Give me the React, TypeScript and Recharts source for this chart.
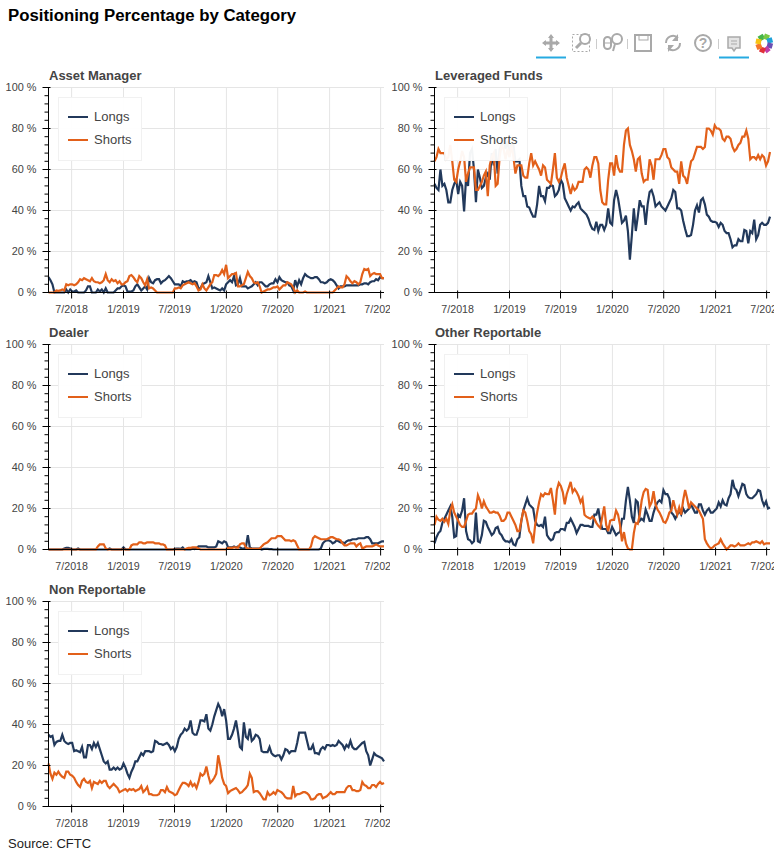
import React from "react";
import { LineChart, Line, XAxis, YAxis, CartesianGrid, Legend } from "recharts";

const FONT = '"Liberation Sans", Arial, sans-serif';
const NAVY = "#22395b";
const ORANGE = "#e2601a";
const GREY = "#444444";
const ICON = "#a9a9a9";

const assetLongs = [
  7.5,6,4,0,0,0,0,0,0,1.5,
  0,1.5,0.5,0.5,1,0,0,0,0,1,
  3,3,0,0,0,1.5,0.5,1.5,0,2,
  0,0,0,0,1,2,2,3,3.5,3,
  0.5,0.5,0.5,1,3,4,2.5,1,2,3,
  1.5,7,5,4.5,6,6.5,6.5,4.5,5.5,6,
  7,8,7,5.5,4,4,4,3,5.5,5,
  5.5,5.5,6,5,5.5,5,2,2,4,4.5,
  5,8,5,2,2.5,2,1.5,1,2,1,
  4,5,6,5,8,3.5,4,7,3,3,
  3,2,2.5,3,4,5,3.5,5,5,4,
  3,3,4,4.5,4.5,6.5,5,7.5,6,5.5,
  5,5,3.5,3,1,6,3,6,4,7,
  9,8,7.5,7,7,7.5,7.5,6.5,5,5,
  4.5,5,6,6.5,6,5,3.5,2,3,3,
  3,3.5,3.5,3.5,3.5,3.5,3.5,3.5,4,4,
  4.5,4.5,4,5,5.5,5.5,6.5,6,7.5,7,7,
];
const assetShorts = [
  0,0,0,0,1,0.8,1,1.5,1,4,
  3.5,4,4,3.5,4,5,6.5,6,7,6.5,
  6,5.5,7,5.5,5,5,4.5,5,6,9,
  6,5,6.5,5.5,6,4.5,5.5,4,4,5,
  5.5,8,8.5,7.5,6,5,8,7,5,3.5,
  6.5,2,2.5,2,1,0,0,0,0,0,
  0,0,0,0,2,2,2.5,2,3.5,4,
  4.5,5,4.5,4,4.5,3,1,1.5,4,2,
  1,2.5,4,5,8.5,8.5,8,9,11,9,
  13.5,7,8,9,9,9.5,3,3,3.5,4,
  7,10,8,7,5,4.5,5,3,0,0.5,
  1,1.5,1.5,2,2.5,2.5,3,1.5,2.5,3.5,
  3.5,5,4.5,4,2.5,0,1,0,0,0,
  0.5,0,0,0,0,0,0,0,0,0,
  0,0,0,0,0,1,2,3,2.5,2.5,
  4,8,7,5.5,4.5,5.5,5,4,5,9,
  11.5,11,11.5,8,9,9.5,9,9,9,7,7,
];
const leveragedLongs = [
  53,51,50,60,52,53,50,44,44,50,
  53,55,48,54,52,39.5,56,52,68,70,
  60,44,60,56,51,52,56,58,55,68,
  62,70,58,70,72,74,70,74,68,72,
  72,64,64,65,52,47,47,42,41.5,39,
  37,37,43,52,47,47,44.5,51,51,52.5,
  52,47,48,50,55,53,46,44,42,40,
  42,41.5,43,44,41,40,39,38,36,33,
  31,30.5,34.5,30,33,33,30.5,33,41,34,
  33,45,50,46,40,34,35,37.5,30,16,
  28,41,30,37,45,42,42,33,43,49,
  50,47,42,43,44,42,41,40,42,44,
  46,50,49,41,41,40,35,31,27.5,27.5,
  28,33,40,42.5,39,45,46,43,38,37,
  35,34.5,34.5,34,32,34,33,30,29,29,
  26,22,23,23,26,25,25,30.5,30,24,
  30,29,35.5,26,28,33,34,33,33,34,37,
];
const leveragedShorts = [
  64,66,70,68,68,68,65,66,72,64,
  55,54,60,64,69,66,54,58,61,61,
  61,50,50,52,54,57,59,47,62,66,
  68,52,53,66,72,70,65,70,66,72,
  66,58,62,62,62,57,56,56,63,68,
  62,64,62,60,57,62,61,55,54,53,
  60,68,56,54,56,60,63,56,52,48,
  52,50,51,54,54,54,60,61,60,56,
  62,66,66,63,50,44,43,43,55,63,
  63,57,67,61,59,59,72,79,80,72,
  69,65,59,65,66,58,54,55,55,65,
  62,55,65,65,65,67,70,70,66,65,
  61,60,59,59,53,64,57,56,53,59,
  64,65,68,71,71,71,70,71,80,80,
  79,77,81.5,80,80,79,75,74,76,76,
  75,71,69,70,72,73,76,76,79,75,
  65,66,66,65,67,65,67,66,62,64,68.5,
];
const dealerLongs = [
  0,0,0,0,0,0,0,0,0.5,0.8,
  0.8,0.5,0,0,0,0.5,0,0,0,0,
  0,0,0,0,0,0,0,0,0,0,
  0,0.5,0,0,0,0,0,0,1,0,
  0,0,0,0,0,0,0,0,0,0,
  0,0,0,0,0,0,0,0,0,0,
  0,0,0,0,0.3,0.5,0.5,0.3,1,0,
  0,0,0,0.5,0.2,0.5,1.5,1.5,1.5,1.5,
  1.5,1,1,1,1,1.5,4,3.5,3,4,
  3.5,1,1,1,1.5,1,1.5,1,0.5,0.5,
  1,7,1,0.5,0.5,0.5,0.5,0.5,0,0.3,
  0.3,0.3,0.2,0.2,0,0,0,0,0,0,
  0,0,0,0,0,0,0,0,0,0,
  0,0,0,0,0,0,0,0,0.5,3,
  4,4.5,4.5,4,3,3.5,4.5,4,3.5,3.5,
  3,4,4.5,4.5,5,5,5,5.5,5.5,5.5,
  5.5,6,6,5,3,3,3,3,3.5,4,4,
];
const dealerShorts = [
  0,0,0,0,0,0,0,0,0,0,
  0,0,0,0,0,0,0,0,0,0,
  0,0,0,0,0,1.5,2.5,2.5,2.5,0.5,
  0,0,0,0,0,0,0,0,0,0,
  0,0,2,2.5,2.5,2.5,3.5,3.5,3,3,
  3.5,3.5,3.5,3.5,3,3,3,2.5,2.5,2,
  0,0,0,0,0,0,0,0,0,0,
  0.5,0.8,0.8,1,1,1,0.5,0,0,0,
  0,0,0,0,0,0,0,0,0,0,
  0,0.8,0.8,0.8,1,1,0.8,2.5,3,3,
  1,0.5,0.5,0.3,0.3,0.3,0.3,0.5,1.5,2.5,
  3,3.5,4.5,5.5,5.5,5.5,6.5,6.5,6.5,5.5,
  4.5,4.5,4.5,4,4.5,4,2,0,0,0,
  0,0,0,1.5,5.5,6.5,6,5.5,5,5,
  5,5,5.5,6,6,5.5,5,5,4.5,3,
  2,2,2.5,3,3,3,1.5,2.5,3,0.5,
  1,1.5,1.5,1.5,1.5,2,2.5,2,1.5,1.5,1.5,
];
const otherLongs = [
  3,6,8,9,13,15,17,19,21,16,
  6,6.5,17,16,19,25,9,5,4.5,3,
  4,18,4,3.5,7,14,13.5,11,9,7,
  8,10.5,11,8,7,5,4,4,3.5,5,
  2.5,2,5,6,14,19,22,25,22,21,
  20,14,12,11.5,12,11,16,7,5.5,4.5,
  5,8,8.5,8.5,10,10,9.5,13,13,15,
  13,11,8,10,12,12,11.5,11.5,11.5,11,
  11,17,17,20,14,10,10,10,8,8,
  11,9,7,8,8.5,15,15,24,30.5,24,
  16,13,24,23,14,15,14,19.5,17,14,
  14,18,21,23,24,23,29,27,27,25,
  18,17,15,17,19,17,20,18,19,20,
  22,20,18,18,22,22,19,17,19,20,
  18,18,19,20,23,21,24,22,21.5,25,
  27,34,30,29,26,29,32,31.5,27,25.5,
  25,25,26,27,29,28.5,24,21.5,23.5,20,20.5,
];
const otherShorts = [
  12,16,14.5,14,15,13.5,15,12.5,19,22,
  18,16,14,12,11,11,14,17,17.5,17.5,
  19,20,26.5,24,20,23.5,21,19.5,18,18,
  18.5,18,18,16.5,14,14,15,18,18,16,
  14,12,9,9,14,19,18,14,9,7.5,
  3,12,18,23,27,26,27.5,27,27,30,
  24,17,29,32.5,31,28,22,27,30,33,
  28,29.5,28,26,23,25,17,16,15.5,15,
  16,15,13,11.5,10.5,16,21,12,9,14,
  14.5,14.5,19,17,12,4,8.5,3,0.5,0,
  0,8,13,12.5,17,24,28,29.5,29,21,
  23,28.5,22,19.5,18,16,13.5,13,15,18,
  19,24,20,17,20.5,17,24,29,25,20,
  23,22,21,20,19,17,15,5,3,1.5,
  0.5,1,2,2.5,3,5,3,1.5,0,1,
  2,2,1.5,2,3,2,2,2,2.5,3,
  2.5,3.5,3.5,4,3.5,3,4,2.5,3,3,3,
];
const nonLongs = [
  35,34,34.5,30,31.5,32,32,35,32,31,
  30.5,31,31,27,27.5,27,26.5,29,24,24,
  30,30,28,31,29,31,28,25,22,21,
  22,18,18,19,18,19,18,18.5,21,19,
  16,14,17,19,22,22,24,26,25,27,
  27,27,26.5,27,32,31.5,30.5,30.5,30,30.5,
  31,30,28,29,27,29,33,35,36,38,
  37,38,42,36,35,35,38,42,42,41.5,
  45,38,37,40,44,47,50,48,44,47.5,
  42,33,33,35,38,42,36,29,28,41,
  34,33,38,32,33,35,34.5,33,27,26.5,
  26.5,26.5,29,26,25,24.5,25,25,23,25,
  28,27.5,26,27,27,27,31,36,36,36,
  36,32,28,28,30,26,26,25.5,28,29,
  28,30,30,29.5,30,29.5,30,32,31,30,
  28,30,29,32,29,28,28,29,30,31,
  31.5,27,25,20,23,26,25,24.5,24,23.5,22,
];
const nonShorts = [
  21,16,13.5,16.5,15.5,17,15.5,14.5,14,17,
  17,15.5,15,14,12,10.5,9.5,12.5,13.5,12,
  11.5,12.5,9,12,11.5,11,12.5,11.5,12.5,12.5,
  10,9,10,11,10,9,7,7.5,8,8.5,
  7.5,8.5,8,8.5,7.5,8,8.5,10,7,8,
  9.5,6,6,5.5,5.5,5.5,6,8,8,7,
  9.5,7.5,7,6.5,5.5,6,8,10,11.5,11.5,
  11,10,12,10,11,9,12,16,15,16,
  19.5,15,11.5,12.5,14,16,25,20,14,11,
  10,6.5,7.5,8,8.5,9,8,6.5,7,8,
  9,10.5,16,14,7,7.5,7.5,6.5,5,3.5,
  3.5,7,5.5,6,7,6,8,7.5,7,6,
  4.5,4,4,4,10,5,6,6,6.5,7,
  7,6.5,5.5,3.5,3.5,4,5.5,6,6,4,
  4.5,5,6,7,6,6,7,7,7,7,
  7,9,10,10,8,8,7.5,7.5,8,12,
  10.5,10,9,9,10.5,10.5,9.5,11,12,11,11.5,
];

const firstWeek = Date.UTC(2018, 3, 10);
const WEEK = 7 * 24 * 3600 * 1000;
const weeks = assetLongs.map((_, i) => firstWeek + i * WEEK);
const xTickDates = [[2018, 6], [2019, 0], [2019, 6], [2020, 0], [2020, 6], [2021, 0], [2021, 6]];
const xTicks = xTickDates.map(([y, m]) => Date.UTC(y, m, 1));
const yTicks = [0,4,8,12,16,20,24,28,32,36,40,44,48,52,56,60,64,68,72,76,80,84,88,92,96,100];
const yGrid = [0, 20, 40, 60, 80, 100];

function XTick({ x, y, payload }: any) {
  const d = new Date(payload.value);
  return (
    <g>
      <line x1={x} x2={x} y1={y - 2} y2={y + 6} stroke="#000" />
      <text x={x} y={y + 20} textAnchor="middle" fontFamily={FONT} fontSize={10.67} fill={GREY}>
        {`${d.getUTCMonth() + 1}/${d.getUTCFullYear()}`}
      </text>
    </g>
  );
}

function YTick({ x, y, payload }: any) {
  const major = payload.value % 20 === 0;
  return (
    <g>
      <line x1={major ? x + 2 : x} x2={x - (major ? 6 : 4)} y1={y} y2={y} stroke="#000" />
      {major && (
        <text x={x - 12} y={y + 3.3} textAnchor="end" fontFamily={FONT} fontSize={10.9} fill={GREY}>
          {`${payload.value} %`}
        </text>
      )}
    </g>
  );
}

function LegendBox({ payload }: any) {
  return (
    <div
      style={{
        boxSizing: "border-box",
        width: 84,
        height: 64,
        paddingTop: 7,
        background: "rgba(255,255,255,0.95)",
        border: "1px solid rgba(229,229,229,0.55)",
        fontFamily: FONT,
        fontSize: 13,
        color: GREY,
      }}
    >
      {(payload || []).map((p: any) => (
        <div key={p.value} style={{ display: "flex", alignItems: "center", height: 23, paddingLeft: 9 }}>
          <span style={{ display: "inline-block", width: 20, height: 2, background: p.color, marginRight: 6 }} />
          <span>{p.value}</span>
        </div>
      ))}
    </div>
  );
}

const panels = [
  { title: "Asset Manager", longs: assetLongs, shorts: assetShorts, left: 0, top: 60, width: 390 },
  { title: "Leveraged Funds", longs: leveragedLongs, shorts: leveragedShorts, left: 386, top: 60, width: 388 },
  { title: "Dealer", longs: dealerLongs, shorts: dealerShorts, left: 0, top: 317, width: 390 },
  { title: "Other Reportable", longs: otherLongs, shorts: otherShorts, left: 386, top: 317, width: 388 },
  { title: "Non Reportable", longs: nonLongs, shorts: nonShorts, left: 0, top: 574, width: 390 },
];

function Panel({ p }: any) {
  const data = weeks.map((t, i) => ({ t, Longs: p.longs[i], Shorts: p.shorts[i] }));
  const right = p.width === 390 ? 6 : 4;
  return (
    <div style={{ position: "absolute", left: p.left, top: p.top }}>
      <LineChart
        width={p.width}
        height={270}
        data={data}
        margin={{ top: 27.5, left: 0.5, right, bottom: 0.5 }}
      >
        <CartesianGrid stroke="#e5e5e5" horizontalValues={yGrid} verticalValues={xTicks} />
        <XAxis
          dataKey="t"
          type="number"
          domain={[weeks[0], weeks[weeks.length - 1]]}
          ticks={xTicks}
          interval={0}
          height={37}
          tick={<XTick />}
          tickLine={false}
          tickSize={0}
          tickMargin={0}
          axisLine={{ stroke: "#000" }}
        />
        <YAxis
          type="number"
          domain={[0, 100]}
          ticks={yTicks}
          interval={0}
          width={48}
          tick={<YTick />}
          tickLine={false}
          tickSize={0}
          tickMargin={0}
          axisLine={{ stroke: "#000" }}
        />
        <Line dataKey="Longs" name="Longs" stroke={NAVY} strokeWidth={2.2} dot={false} type="linear" isAnimationActive={false} />
        <Line dataKey="Shorts" name="Shorts" stroke={ORANGE} strokeWidth={2.2} dot={false} type="linear" isAnimationActive={false} />
        <Legend
          layout="vertical"
          align="center"
          verticalAlign="middle"
          content={<LegendBox />}
          wrapperStyle={{ position: "absolute", left: 58, top: 37, width: 84, height: 64 }}
        />
        <text x={49} y={20} fontFamily={FONT} fontSize={13} fontWeight="bold" fill={GREY}>
          {p.title}
        </text>
      </LineChart>
    </div>
  );
}

function Toolbar() {
  const s = { fill: "none", stroke: ICON, strokeWidth: 2 };
  return (
    <svg width={249} height={40} style={{ position: "absolute", left: 530, top: 25 }}>
      {/* pan */}
      <g stroke={ICON} strokeWidth={3} fill={ICON}>
        <line x1={21} y1={11} x2={21} y2={25} />
        <line x1={14} y1={18} x2={28} y2={18} />
        <path d="M21 9l3 4h-6zM21 27l3-4h-6zM12 18l4-3v6zM30 18l-4-3v6z" strokeWidth={0} />
      </g>
      <line x1={6} x2={36} y1={32.5} y2={32.5} stroke="#26aae1" strokeWidth={2} />
      {/* box zoom */}
      <rect x={42.5} y={9.5} width={17} height={17} fill="none" stroke={ICON} strokeDasharray="2 2" />
      <circle cx={55} cy={14} r={5} {...s} />
      <line x1={51} y1={18} x2={46} y2={23} stroke={ICON} strokeWidth={3} />
      <line x1={66.5} x2={66.5} y1={14} y2={24} stroke="#cccccc" />
      {/* wheel zoom */}
      <rect x={74} y={12} width={7} height={12} rx={3.5} {...s} />
      <line x1={75} x2={80} y1={18} y2={18} stroke={ICON} />
      <circle cx={87} cy={14} r={5} {...s} />
      <line x1={85} y1={19} x2={83} y2={26} stroke={ICON} strokeWidth={2} />
      <line x1={97.5} x2={97.5} y1={14} y2={24} stroke="#cccccc" />
      {/* save */}
      <rect x={105} y={10} width={16} height={16} {...s} />
      <rect x={109} y={10} width={9} height={5} fill="none" stroke={ICON} />
      {/* reset */}
      <path d="M150 18a7 7 0 0 1-12 5M136 18a7 7 0 0 1 12-5" {...s} />
      <path d="M148 9v7h-6zM138 27v-7h6z" fill={ICON} />
      {/* help */}
      <circle cx={173} cy={18} r={8} {...s} />
      <text x={173} y={23} textAnchor="middle" fontFamily={FONT} fontSize={14} fontWeight="bold" fill={ICON}>?</text>
      <line x1={188.5} x2={188.5} y1={14} y2={24} stroke="#cccccc" />
      {/* hover */}
      <path d="M198 12h12v11h-4l-2 3-2-3h-4z" fill="#e4e4e4" stroke={ICON} strokeWidth={1.5} />
      <line x1={201} x2={207} y1={16} y2={16} stroke={ICON} />
      <line x1={201} x2={207} y1={19} y2={19} stroke={ICON} />
      <line x1={189} x2={219} y1={32.5} y2={32.5} stroke="#26aae1" strokeWidth={2} />
      {/* logo */}
      <g strokeWidth={5.5} fill="none">
        <path d="M229 14l5-3" stroke="#46b549" />
        <path d="M234 11l5 2" stroke="#7ac943" />
        <path d="M239 13l1.5 5" stroke="#1ea1d9" />
        <path d="M240.5 18l-1.5 5" stroke="#6a4fb3" />
        <path d="M239 23l-4 3" stroke="#c03da8" />
        <path d="M235 26l-5-2" stroke="#e0303a" />
        <path d="M230 24l-2-5" stroke="#f4762a" />
        <path d="M228 19l1-5" stroke="#f7c313" />
      </g>
    </svg>
  );
}

export default function App() {
  return (
    <div style={{ position: "absolute", left: 0, top: 0, width: 779, height: 858, fontFamily: FONT }}>
      <div style={{ position: "absolute", left: 8, top: 6, fontSize: 16.8, fontWeight: "bold", color: "#000", whiteSpace: "nowrap" }}>
        Positioning Percentage by Category
      </div>
      <Toolbar />
      {panels.map((p) => (
        <Panel key={p.title} p={p} />
      ))}
      <div style={{ position: "absolute", left: 8, top: 836, fontSize: 13, color: "#222", whiteSpace: "nowrap" }}>
        Source: CFTC
      </div>
    </div>
  );
}
